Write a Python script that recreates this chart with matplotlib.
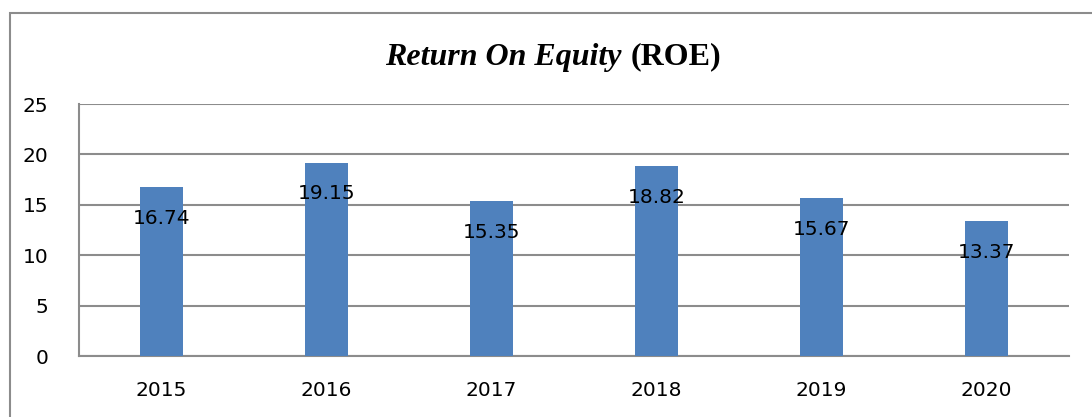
import matplotlib.pyplot as plt
from matplotlib.patches import Rectangle

years = ["2015", "2016", "2017", "2018", "2019", "2020"]
roe = [16.74, 19.15, 15.35, 18.82, 15.67, 13.37]
yticks = [0, 5, 10, 15, 20, 25]

fig = plt.figure(figsize=(10.92, 4.17), dpi=100)
ax = fig.add_axes([79 / 1092, 1 - 356 / 417, 990 / 1092, 252 / 417])

# outer chart border (cut off at right and bottom in the original)
fig.patches.append(Rectangle((10 / 1092, -0.1), 1.2, 1 - 13.5 / 417 + 0.1,
                             transform=fig.transFigure, fill=False,
                             edgecolor="#8c8c8c", linewidth=1.5))

x = range(len(years))
ax.bar(x, roe, width=0.255, color="#4F81BD", zorder=3)
for i, v in zip(x, roe):
    ax.annotate(f"{v:.2f}", (i, v), xytext=(0, -31), textcoords="offset pixels",
                ha="center", va="center", fontsize=14.5, zorder=4)

ax.set_xlim(-0.5, len(years) - 0.5)
ax.set_ylim(0, 25)
ax.set_yticks(yticks)
ax.set_xticks(list(x))
ax.set_xticklabels(years)
ax.tick_params(length=0, labelsize=14.5, pad=18)
ax.tick_params(axis="y", pad=22)
ax.yaxis.grid(True, color="#8c8c8c", linewidth=1.5, zorder=0)
for s in ["top", "right"]:
    ax.spines[s].set_visible(False)
for s in ["left", "bottom"]:
    ax.spines[s].set_color("#8c8c8c")
    ax.spines[s].set_linewidth(1.5)

fig.text(622 / 1092, 1 - 57 / 417, "Return On Equity", ha="right", va="center",
         family="Liberation Serif", weight="bold", style="italic", fontsize=23)
fig.text(631 / 1092, 1 - 57 / 417, "(ROE)", ha="left", va="center",
         family="Liberation Serif", weight="bold", fontsize=23)

fig.savefig("out.png", dpi=100)
